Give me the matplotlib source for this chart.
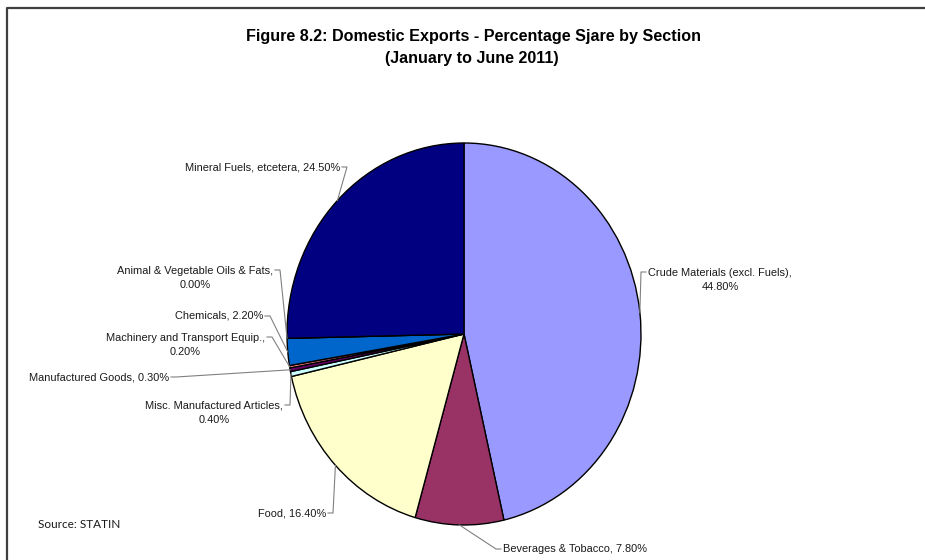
import matplotlib
matplotlib.use("Agg")
import matplotlib.pyplot as plt
import numpy as np

sections = ['Crude Materials (excl. Fuels)', 'Beverages & Tobacco', 'Food',
            'Misc. Manufactured Articles', 'Manufactured Goods',
            'Machinery and Transport Equip.', 'Chemicals',
            'Animal & Vegetable Oils & Fats', 'Mineral Fuels, etcetera']
shares = [44.8, 7.8, 16.4, 0.4, 0.3, 0.2, 2.2, 0.0, 24.5]
colors = ['#9999FF', '#993366', '#FFFFCC', '#CCFFFF', '#660066',
          '#FF8080', '#0066CC', '#CCCCFF', '#000080']

# label layout in pixels: leader elbow point, and which side the text sits on
elbows = [(641, 272), (496, 549), (333, 513), (290, 405), (176, 377),
          (272, 337), (270, 316), (280, 270), (347, 167)]
sides = ['right', 'right', 'left', 'left', 'left', 'left', 'left', 'left', 'left']
two_line = {0, 3, 5, 7}

W, H = 925, 560
fig = plt.figure(figsize=(W / 100, H / 100), dpi=100)

# pie is slightly taller than wide, so the axes are not square
cx0, cy0, cx1, cy1 = 287, 143, 641, 525
ax = fig.add_axes([cx0 / W, 1 - cy1 / H, (cx1 - cx0) / W, (cy1 - cy0) / H])
wedges, _ = ax.pie(shares, colors=colors, startangle=90, counterclock=False,
                   wedgeprops=dict(edgecolor='black', linewidth=1.0))
ax.set_aspect('auto')
ax.set_xlim(-1, 1)
ax.set_ylim(-1, 1)
ax.axis('off')

# overlay in pixel coordinates for text, leaders and the frame
ov = fig.add_axes([0, 0, 1, 1], zorder=5)
ov.set_xlim(0, W)
ov.set_ylim(H, 0)
ov.axis('off')
ov.patch.set_alpha(0)

ov.plot([7, 7, W], [H, 8, 8], color='#404040', lw=1.6, solid_capstyle='butt')

ov.text(474, 36, 'Figure 8.2: Domestic Exports - Percentage Sjare by Section',
        ha='center', va='center', fontsize=11.6, fontweight='bold',
        family='Liberation Sans')
ov.text(472, 59, '(January to June 2011)', ha='center', va='center',
        fontsize=11.6, fontweight='bold', family='Liberation Sans')

for i, w in enumerate(wedges):
    mid = np.deg2rad((w.theta1 + w.theta2) / 2)
    px, py = ax.transData.transform((np.cos(mid), np.sin(mid)))
    py = H - py
    ex, ey = elbows[i]
    tick = 5 if sides[i] == 'right' else -5
    ov.plot([px, ex, ex + tick], [py, ey, ey], color='#808080', lw=0.8)
    if i in two_line:
        txt = f'{sections[i]},\n{shares[i]:.2f}%'
        ty = ey + 8
    else:
        txt = f'{sections[i]}, {shares[i]:.2f}%'
        ty = ey
    ov.text(ex + tick + (2 if tick > 0 else -2), ty, txt,
            ha='left' if tick > 0 else 'right', va='center',
            multialignment='center', linespacing=1.6,
            fontsize=7.9, color='#1a1a1a', family='Liberation Sans')

ov.text(38, 524, 'Source: STATIN', ha='left', va='center', fontsize=8.5,
        color='#1a1a1a', family='Lato')

fig.savefig('out.png', dpi=100)
